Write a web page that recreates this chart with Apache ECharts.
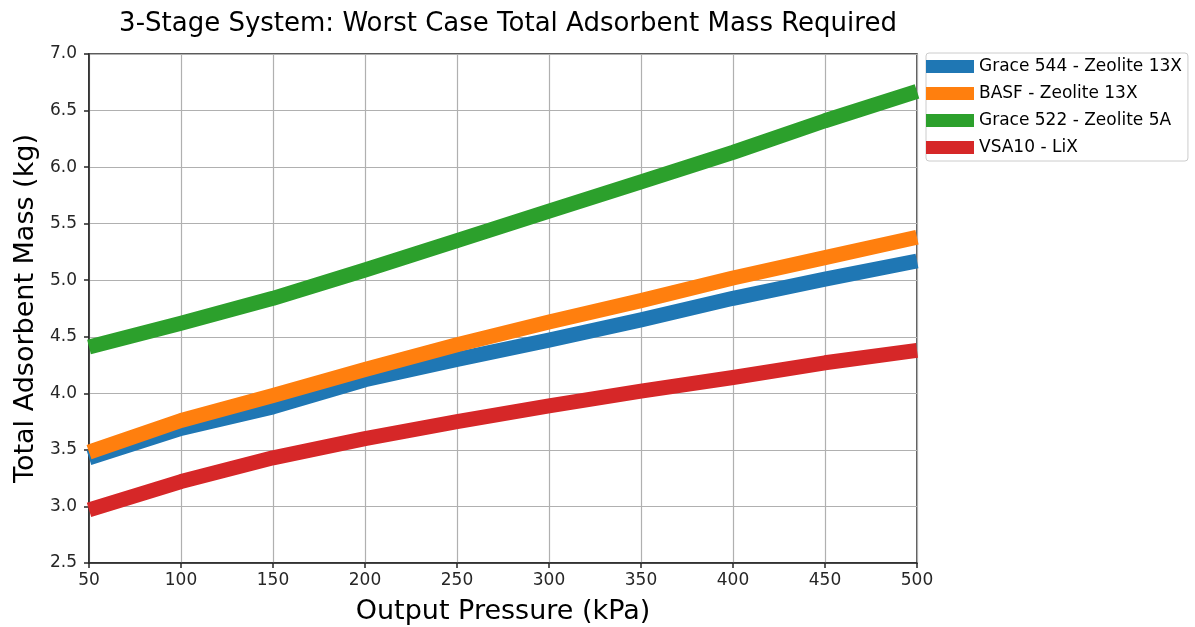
<!DOCTYPE html>
<html>
<head>
<meta charset="utf-8">
<script src="https://cdn.jsdelivr.net/npm/echarts@6/dist/echarts.min.js"></script>
<style>
  html, body { margin: 0; padding: 0; background: #fff; }
  #chart { width: 1195px; height: 627px; }
</style>
</head>
<body>
<div id="chart"></div>
<script>
// output pressure (kPa)
const pressure = [50, 100, 150, 200, 250, 300, 350, 400, 450, 500];

// total adsorbent mass (kg)
const grace544 = [3.43, 3.69, 3.88, 4.12, 4.30, 4.47, 4.65, 4.84, 5.01, 5.17];
const basf = [3.48, 3.76, 3.98, 4.21, 4.43, 4.63, 4.82, 5.02, 5.20, 5.38];
const grace522 = [4.41, 4.62, 4.84, 5.09, 5.35, 5.61, 5.87, 6.13, 6.41, 6.67];
const vsa10 = [2.97, 3.22, 3.43, 3.60, 3.75, 3.89, 4.02, 4.14, 4.27, 4.38];

const seriesNames = ["Grace 544 - Zeolite 13X", "BASF - Zeolite 13X", "Grace 522 - Zeolite 5A", "VSA10 - LiX"];
const seriesValues = [grace544, basf, grace522, vsa10];
const colors = ["#1f77b4", "#ff7f0e", "#2ca02c", "#d62728"];

const font = "DejaVu Sans";

const chart = echarts.init(document.getElementById("chart"));

const option = {
  backgroundColor: "#fff",
  animation: false,
  textStyle: { fontFamily: font },
  title: {
    text: "3-Stage System: Worst Case Total Adsorbent Mass Required",
    left: 503,
    textAlign: "center",
    top: 6,
    textStyle: { fontFamily: font, fontSize: 26, fontWeight: "normal", color: "#000" },
  },
  legend: {
    orient: "vertical",
    left: 926,
    top: 53,
    data: seriesNames,
    icon: "rect",
    itemWidth: 48,
    itemHeight: 13,
    itemGap: 10,
    padding: [5, 6, 5, 0],
    borderColor: "#ccc",
    borderWidth: 1,
    borderRadius: 3,
    textStyle: { fontFamily: font, fontSize: 17, color: "#000" },
  },
  grid: {
    left: 89,
    right: 278,
    top: 54,
    bottom: 64,
    outerBoundsMode: "none",
    show: true,
    borderColor: "#262626",
    borderWidth: 1.5,
  },
  xAxis: {
    type: "value",
    min: 50,
    max: 500,
    interval: 50,
    name: "Output Pressure (kPa)",
    nameLocation: "middle",
    nameGap: 35,
    nameTextStyle: { fontFamily: font, fontSize: 27, color: "#000" },
    axisLine: { show: true, lineStyle: { color: "#262626", width: 1.5 } },
    axisTick: { show: true, length: 5, lineStyle: { color: "#262626", width: 1.5 } },
    axisLabel: { fontFamily: font, fontSize: 17, color: "#262626", margin: 9 },
    splitLine: { show: true, lineStyle: { color: "#b0b0b0", width: 1.2 } },
  },
  yAxis: {
    type: "value",
    min: 2.5,
    max: 7.0,
    interval: 0.5,
    name: "Total Adsorbent Mass (kg)",
    nameLocation: "middle",
    nameGap: 45,
    nameTextStyle: { fontFamily: font, fontSize: 27, color: "#000" },
    axisLine: { show: true, lineStyle: { color: "#262626", width: 1.5 } },
    axisTick: { show: true, length: 5, lineStyle: { color: "#262626", width: 1.5 } },
    axisLabel: { fontFamily: font, fontSize: 17, color: "#262626", margin: 12, formatter: (v) => v.toFixed(1) },
    splitLine: { show: true, lineStyle: { color: "#b0b0b0", width: 1.2 } },
  },
  series: seriesNames.map((name, i) => ({
    name: name,
    type: "line",
    data: pressure.map((p, j) => [p, seriesValues[i][j]]),
    showSymbol: false,
    symbol: "none",
    color: colors[i],
    lineStyle: { width: 15, color: colors[i], cap: "butt", join: "round" },
    z: 2 + i,
  })),
};

chart.setOption(option);
</script>
</body>
</html>
